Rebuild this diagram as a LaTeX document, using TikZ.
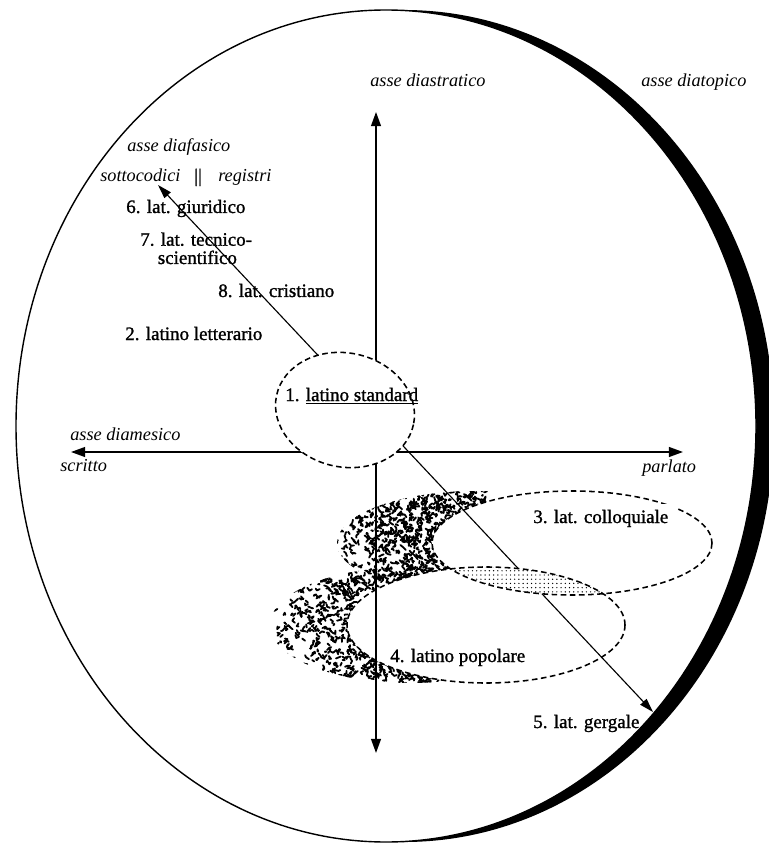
\documentclass[tikz,border=0pt]{standalone}
\usepackage{fontspec}
\setmainfont{Liberation Serif}
\newfontfamily\labfont{Liberation Serif}[FakeBold=1.2]
\usetikzlibrary{arrows.meta,patterns}
\tikzset{
  axis/.style={line width=1.1pt, {Triangle[length=10pt,width=7pt]}-{Triangle[length=10pt,width=7pt]}},
  diag/.style={line width=0.8pt, {Triangle[length=10pt,width=6pt]}-{Triangle[length=10pt,width=6pt]}},
  dash ell/.style={line width=1.1pt, dash pattern=on 4pt off 2.5pt},
  spray/.style={line width=1.3pt, line cap=round, line join=round},
  varlab/.style={font=\labfont\fontsize{13.5}{13}\selectfont, anchor=base west, inner sep=0pt},
  asselab/.style={font=\fontsize{13}{15}\selectfont\itshape, anchor=base west, inner sep=0pt}
}

\begin{document}
\begin{tikzpicture}[x=0.025cm, y=-0.025cm]
\useasboundingbox (0,0) rectangle (768,845);
\fill[black] (404,426) ellipse [x radius=370, y radius=416];
\fill[white] (386,426) ellipse [x radius=370, y radius=416];
\draw[line width=1pt] (386,426) ellipse [x radius=370, y radius=416];

\pgfmathsetseed{12}
\begin{scope}
\clip (477,543) ellipse [x radius=140, y radius=52];
\foreach \i in {1,...,1100}
  \draw[spray] ({337+150*pow(rnd,0.7)},{491+104*rnd}) -- ++({3*rand},{3*rand}) -- ++({3*rand},{3*rand});
\end{scope}
\begin{scope}
\clip (409,625) ellipse [x radius=139, y radius=58];
\foreach \i in {1,...,1100}
  \draw[spray] ({270+180*pow(rnd,0.7)},{567+116*rnd}) -- ++({3*rand},{3*rand}) -- ++({3*rand},{3*rand});
\end{scope}
\fill[white] (572,543) ellipse [x radius=140, y radius=52];
\fill[white] (486,625) ellipse [x radius=139, y radius=58];

\coordinate (stop) at (376,112);
\coordinate (sbot) at (376,753);
\coordinate (mleft) at (71,452);
\coordinate (mright) at (683,452);
\coordinate (fup) at (158,185);
\coordinate (fdown) at (653,712);
\draw[axis] (stop) -- (sbot);
\draw[axis] (mleft) -- (mright);
\draw[diag] (fup) -- (fdown);

\begin{scope}
\clip (572,543) ellipse [x radius=140, y radius=52];
\fill[white] (486,625) ellipse [x radius=139, y radius=58];
\fill[pattern=dots] (486,625) ellipse [x radius=139, y radius=58];
\end{scope}
\draw[dash ell] (572,543) ellipse [x radius=140, y radius=52];
\draw[dash ell] (486,625) ellipse [x radius=139, y radius=58];
\draw[dash ell, fill=white, rotate around={-12:(345,410)}] (345,410) ellipse [x radius=70, y radius=57];

\node[asselab] (diastr) at (370,87) {asse diastratico};
\node[asselab] (diatop) at (641,87) {asse diatopico};
\node[asselab] (diafas) at (127,152) {asse diafasico};
\node[asselab] (sotto) at (100,182) {sottocodici};
\node[varlab] (bars) at (194,182) {||};
\node[asselab] (regis) at (218,182) {registri};
\node[varlab] (giur) at (126,213) {6. lat. giuridico};
\node[varlab, align=left] (tecn) at (140,264) {7. lat. tecnico-\\\hspace*{12.5pt}scientifico};
\node[varlab] (crist) at (218,297) {8. lat. cristiano};
\node[varlab] (letter) at (125,340) {2. latino letterario};
\node[varlab] (stdlab) at (285,401) {1. \underline{latino standard}};
\node[asselab] (diames) at (70,440) {asse diamesico};
\node[asselab] (scritto) at (60,471) {scritto};
\node[asselab] (parlato) at (642,472) {parlato};
\node[varlab, fill=white, inner xsep=6pt, inner ysep=4pt] (coll) at (524.6,523) {3. lat. colloquiale};
\node[varlab] (popol) at (390,662) {4. latino popolare};
\node[varlab] (gerg) at (533,728) {5. lat. gergale};
\end{tikzpicture}
\end{document}
